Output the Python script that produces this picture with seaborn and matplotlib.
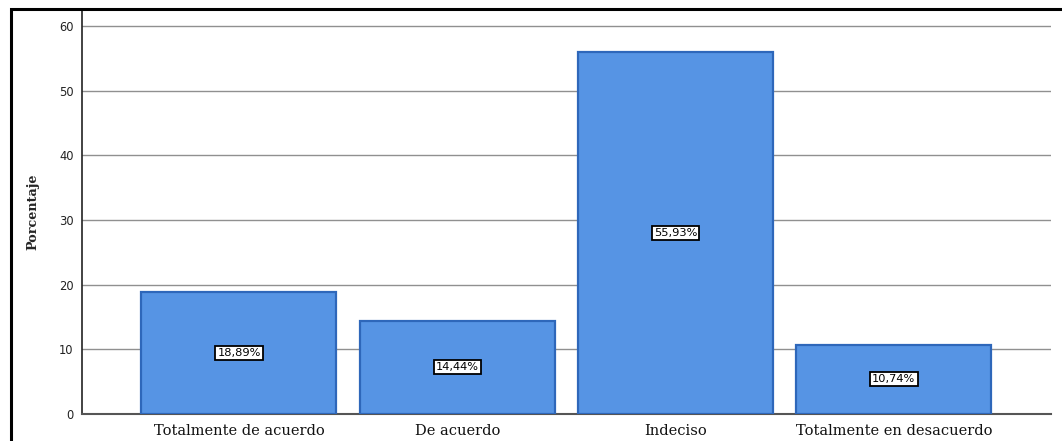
import matplotlib
matplotlib.use("Agg")
import matplotlib.pyplot as plt
import matplotlib.patches as mpatches
import seaborn as sns
import pandas as pd

# Survey response categories and their percentages
categorias = ["Totalmente de acuerdo", "De acuerdo", "Indeciso", "Totalmente en desacuerdo"]
porcentajes = [18.89, 14.44, 55.93, 10.74]
etiquetas = ["18,89%", "14,44%", "55,93%", "10,74%"]
yticks = [0, 10, 20, 30, 40, 50, 60]

df = pd.DataFrame({"categoria": categorias, "porcentaje": porcentajes})

sns.set_style("white")
plt.rcParams["font.family"] = ["DejaVu Sans"]

W, H = 1062, 441
fig = plt.figure(figsize=(W / 100, H / 100), dpi=100)
ax = fig.add_axes([82 / W, 1 - 414 / H, (1051 - 82) / W, (414 - 9) / H])

sns.barplot(data=df, x="categoria", y="porcentaje", ax=ax,
            color="#5694E4", saturation=1, width=0.893,
            edgecolor="#2E67BA", linewidth=1.6, zorder=3)

ax.set_xlim(-0.719, 3.72)
ax.set_ylim(0, 62.6)
ax.set_yticks(yticks)
ax.set_yticklabels([str(t) for t in yticks], fontsize=8.3, color="#222222")
ax.tick_params(axis="y", length=0, pad=6)
ax.tick_params(axis="x", length=0, pad=7)
for lbl in ax.get_xticklabels():
    lbl.set_fontfamily("DejaVu Serif")
    lbl.set_fontsize(10.5)
    lbl.set_color("#111111")

# Horizontal reference lines
for t in yticks[1:]:
    ax.axhline(t, color="#909090", linewidth=1.0, zorder=1)

ax.set_xlabel("")
ax.set_ylabel("Porcentaje", fontfamily="DejaVu Serif", fontsize=9.2,
              fontweight="bold", labelpad=14)

for s in ["top", "right"]:
    ax.spines[s].set_visible(False)
ax.spines["left"].set_color("#222222")
ax.spines["left"].set_linewidth(1.2)
ax.spines["bottom"].set_color("#555555")
ax.spines["bottom"].set_linewidth(1.5)

# Value labels in boxed tags at half the bar height
for i, (v, txt) in enumerate(zip(porcentajes, etiquetas)):
    ax.text(i, v / 2, txt, ha="center", va="center", fontsize=8.2,
            color="black", zorder=5,
            bbox=dict(boxstyle="square,pad=0.18", facecolor="white",
                      edgecolor="black", linewidth=1.3))

# Outer chart frame
frame = mpatches.Rectangle((11 / W, -0.1), 1.2, 1 - 9 / H + 0.1,
                           transform=fig.transFigure, fill=False,
                           edgecolor="black", linewidth=2.2, clip_on=False)
fig.add_artist(frame)

fig.savefig("out.png", dpi=100)
